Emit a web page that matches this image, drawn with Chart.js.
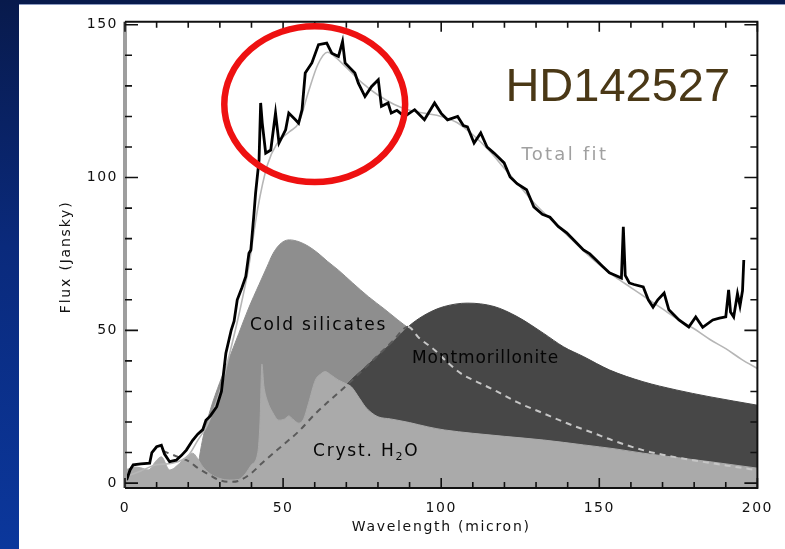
<!DOCTYPE html>
<html><head><meta charset="utf-8">
<script src="https://cdn.jsdelivr.net/npm/chart.js@4.4.1/dist/chart.umd.min.js"></script>
<style>
html,body{margin:0;padding:0;}
body{width:785px;height:549px;background:linear-gradient(180deg,#081a4c 0%,#0a2a7c 45%,#0b379c 100%);position:relative;overflow:hidden;}
#wrap{position:absolute;left:19px;top:4px;width:766px;height:544px;background:#fff;border-top:1px solid #8d9cc2;}
</style></head><body>
<div id="wrap"><canvas id="c" width="766" height="544"></canvas></div>
<script>
// ---- data (x = wavelength in micron, y = flux in Jansky)
const xTickLabels = [0, 50, 100, 150, 200];
const yTickLabels = [0, 50, 100, 150];
const xMinorTicks = [0,10,20,30,40,50,60,70,80,90,100,110,120,130,140,150,160,170,180,190,200];
const yMinorTicks = [0,10,20,30,40,50,60,70,80,90,100,110,120,130,140,150];

const observedFlux = [[0.5,1],[1.6,4.3],[2.6,6],[5,6.3],[7.8,6.5],[8.5,10],[10,11.9],[11.5,12.4],[12.5,9.5],[14.1,7],[16.2,7.5],[17.8,9],[19.4,10.8],[21.4,14],[23,16],[24.6,17.5],[25.6,20.6],[27,22],[29,25],[30.5,30],[31.9,42.5],[33.6,50.1],[34.5,53],[35.5,60],[37,64],[38.2,67.6],[39.2,75.2],[39.8,76.3],[40.8,88.3],[41.3,94.9],[42.4,105.8],[42.9,124.4],[43.4,117.9],[44.5,108],[46.1,109],[47.6,121.1],[48.7,111.3],[50.8,115.6],[51.8,121.1],[53.9,118.9],[54.9,117.8],[56,122.2],[57,134.2],[59.1,137.5],[61.2,143.5],[63.8,144],[65.4,140.7],[67.5,139.6],[68.8,144.5],[69.6,137.5],[72.7,134.2],[73.8,130.9],[75.9,126.5],[78,129.8],[80.1,132],[81.1,123.3],[83.2,124.4],[84.2,121.1],[86,122],[88.4,120],[91.6,122.2],[94.7,118.9],[97.9,124.4],[100,121],[102,118.9],[105.2,120],[107,117],[108.3,116.6],[110.4,111.3],[112.5,114.6],[114.5,110],[116.7,108],[119.9,104.8],[121.8,100.2],[124,98],[127,96],[129.3,90.4],[132,88],[134.4,87],[137,84],[139.7,81.9],[142,79.5],[145,76.3],[147,75],[149,73],[151,71],[153.2,68.8],[155,68],[157,67.1],[157.6,83.9],[158.2,68],[159.5,65.5],[161,65],[163.9,64.2],[165.5,60],[167,57.6],[168.5,60],[170.5,62.2],[172,56.7],[175.2,53.4],[178.3,51.1],[180.5,54.4],[182.7,51],[185.9,53.4],[188,54],[190,54.4],[190.9,63.2],[191.5,56],[192.5,54.4],[193.7,62],[194.5,58],[195.3,63],[195.7,73]];

const totalFit = [[0,2],[5,4],[10,6],[15,6.5],[20,9],[23,14],[26,19],[30,30],[33,42],[36,55],[39,70],[42,90],[45,104],[48,111],[52,115],[55,118],[58,128],[61,137],[64,141],[67,139],[70,136],[75,131],[80,127],[85,124],[90,122],[95,121],[100,120],[105,118],[110,114],[115,109],[120,103],[125,97],[130,91],[135,86],[140,81],[145,76],[150,71.5],[155,67.5],[160,64],[165,60.5],[170,57],[175,53.5],[180,50.5],[185,47],[190,44],[195,40.5],[200,37.5]];

const coldSilicates = [[0,0],[22.5,0],[23.2,6],[24.5,14],[27,24],[30,33],[33,41],[36,49],[39,57],[42.4,65],[45,71],[46.5,74.5],[48,77],[50,79],[52,79.6],[55,79],[58,77.5],[61,75.3],[64,72.6],[67.5,69.7],[72,65.5],[77,61],[82,57],[86.3,53.4],[90,50.5],[95,47],[100,44],[110,38],[120,33],[140,25],[160,19],[180,15],[200,12]];

const montmorillonite = [[40,0],[50,8],[60,19],[65,25.5],[70.6,32.8],[75,37],[80,41.7],[85,46.5],[90.5,52],[95.8,55.6],[101,57.8],[108.3,58.9],[116.7,57.8],[124,54.5],[132.4,49],[138.7,44.6],[145,41.4],[153.3,37],[163.8,33.2],[174.3,30.5],[184.7,28.3],[200,25.5]];

const crystH2O = [[0,4.3],[1.5,4.8],[2.6,5.3],[5,5],[7.3,4.3],[10,7.5],[11.5,8.6],[14.1,4.3],[17.3,6.5],[19.4,8.6],[21.4,9.8],[23,8],[24.5,5.5],[27,3],[30,1.5],[33,1],[36,1.2],[38,3],[40,6],[42,10],[42.7,20],[43.3,39],[43.9,32],[45,27],[46.5,23.5],[48.7,20.6],[50.5,21],[51.8,22],[53,21],[55,19.6],[56.5,21],[58,26],[60.2,33.7],[62,35.8],[63.3,36.5],[65,35.5],[67.5,33.7],[70,32.5],[71.6,31.5],[74,28],[76,25],[78,23],[80,21.7],[84,21],[90,19.8],[95.8,18.4],[101,17.4],[110,16.3],[120,15.3],[132.4,14.1],[145,12.5],[155,11.2],[163.8,9.8],[175,8.3],[185,7],[200,4.9]];

const dashedComponent = [[12,10.5],[17,8.5],[20.4,7],[22.5,5.3],[24.5,4],[27,2.5],[29.8,1],[33,0.4],[36.1,0.8],[40,3.3],[43.3,6.5],[50,12.5],[55,17],[60,22.5],[65,27.3],[68.5,30.5],[75,36.8],[80,41.8],[85,46.8],[89.5,51.2],[93,47.5],[97.9,43.6],[102,39.5],[106.2,35.9],[110,33.8],[116.7,30.5],[124,26.5],[132.4,22.8],[140,19.5],[148.1,16.4],[155,13.7],[163.8,10.8],[170,9.3],[179.5,7.5],[190,5.8],[200,4.2]];

// annotation anchors in data units
const labelTotalFit = [139.1, 107.4];
const labelColdSil = [61.2, 51.4];
const labelMontmor = [114, 40.9];
const labelH2O = [76.3, 10.2];
const labelStar = [120.3, 124.9];
const circleCenter = [60, 124];
const circleRadii = [28.6, 25.5];

const toPts = arr => arr.map(p => ({x: p[0], y: p[1]}));
const AXIS_FONT = '"DejaVu Sans", sans-serif';

function spacedCenter(ctx, text, cx, cy, spacing) {
  ctx.letterSpacing = spacing + 'px';
  const w = ctx.measureText(text).width;
  ctx.textAlign = 'left';
  ctx.fillText(text, cx - w / 2, cy);
}

const decor = {
  id: 'decor',
  beforeUpdate(chart) { chart.ctx.letterSpacing = '1.5px'; },
  beforeDraw(chart) { chart.ctx.letterSpacing = '1.5px'; },
  afterDatasetsDraw(chart) {
    const {ctx, chartArea: a, scales: {x, y}} = chart;
    ctx.save();
    // frame
    ctx.strokeStyle = '#9e9e9e'; ctx.lineWidth = 4;
    ctx.beginPath(); ctx.moveTo(a.left, a.top); ctx.lineTo(a.left, a.bottom); ctx.stroke();
    ctx.strokeStyle = '#111'; ctx.lineWidth = 2;
    ctx.beginPath(); ctx.moveTo(a.left, a.top); ctx.lineTo(a.right, a.top); ctx.lineTo(a.right, a.bottom); ctx.lineTo(a.left, a.bottom); ctx.stroke();
    // ticks (inward, all four sides)
    ctx.lineWidth = 1.6;
    ctx.beginPath();
    xMinorTicks.forEach(v => {
      const px = x.getPixelForValue(v);
      const L = xTickLabels.includes(v) ? 10 : 6;
      ctx.moveTo(px, a.bottom); ctx.lineTo(px, a.bottom - L);
      ctx.moveTo(px, a.top); ctx.lineTo(px, a.top + L);
    });
    yMinorTicks.forEach(v => {
      const py = y.getPixelForValue(v);
      const L = yTickLabels.includes(v) ? 13 : 7;
      ctx.moveTo(a.left, py); ctx.lineTo(a.left + L, py);
      ctx.moveTo(a.right, py); ctx.lineTo(a.right - L, py);
    });
    ctx.stroke();

    // in-plot labels
    ctx.textBaseline = 'middle';
    ctx.font = '18px ' + AXIS_FONT;
    ctx.fillStyle = '#a0a0a0';
    spacedCenter(ctx, 'Total fit', x.getPixelForValue(labelTotalFit[0]), y.getPixelForValue(labelTotalFit[1]), 2.3);
    ctx.fillStyle = '#050505';
    ctx.font = '17px ' + AXIS_FONT;
    spacedCenter(ctx, 'Cold silicates', x.getPixelForValue(labelColdSil[0]), y.getPixelForValue(labelColdSil[1]), 1.8);
    spacedCenter(ctx, 'Montmorillonite', x.getPixelForValue(labelMontmor[0]), y.getPixelForValue(labelMontmor[1]), 0.9);
    // Cryst. H2O with subscript
    const hx = x.getPixelForValue(labelH2O[0]), hy = y.getPixelForValue(labelH2O[1]);
    ctx.letterSpacing = '1.8px';
    ctx.font = '17px ' + AXIS_FONT;
    const p1 = 'Cryst. H', p3 = 'O';
    const w1 = ctx.measureText(p1).width, w3 = ctx.measureText(p3).width;
    ctx.font = '11px ' + AXIS_FONT;
    const w2 = ctx.measureText('2').width;
    let sx = hx - (w1 + w2 + w3) / 2;
    ctx.textAlign = 'left';
    ctx.font = '17px ' + AXIS_FONT; ctx.fillText(p1, sx, hy);
    ctx.font = '11px ' + AXIS_FONT; ctx.fillText('2', sx + w1, hy + 5);
    ctx.font = '17px ' + AXIS_FONT; ctx.fillText(p3, sx + w1 + w2, hy);
    ctx.restore();
  },
  afterDraw(chart) {
    const {ctx, chartArea: a, scales: {x, y}} = chart;
    ctx.save();
    // axis titles
    ctx.fillStyle = '#111';
    ctx.font = '14px ' + AXIS_FONT;
    ctx.textBaseline = 'middle';
    spacedCenter(ctx, 'Wavelength (micron)', (a.left + a.right) / 2, 522, 1.7);
    ctx.save();
    ctx.translate(47, (a.top + a.bottom) / 2 + 2);
    ctx.rotate(-Math.PI / 2);
    spacedCenter(ctx, 'Flux (Jansky)', 0, 0, 1.8);
    ctx.restore();

    // star name
    ctx.letterSpacing = '0px';
    ctx.font = '47px "Liberation Sans", Arial, sans-serif';
    ctx.fillStyle = '#4a3816';
    ctx.textAlign = 'left';
    ctx.textBaseline = 'alphabetic';
    ctx.fillText('HD142527', x.getPixelForValue(labelStar[0]), y.getPixelForValue(labelStar[1]));

    // red highlight ellipse
    const cx = x.getPixelForValue(circleCenter[0]), cy = y.getPixelForValue(circleCenter[1]);
    const rx = x.getPixelForValue(circleCenter[0] + circleRadii[0]) - cx;
    const ry = cy - y.getPixelForValue(circleCenter[1] + circleRadii[1]);
    ctx.strokeStyle = '#ee1111';
    ctx.lineWidth = 6.5;
    ctx.beginPath();
    ctx.ellipse(cx, cy, rx, ry, 0, 0, Math.PI * 2);
    ctx.stroke();
    ctx.restore();
  }
};

const area = (label, data, color, order) => ({
  label, data: toPts(data), borderColor: color, backgroundColor: color,
  borderWidth: 1, pointRadius: 0, fill: 'start', cubicInterpolationMode: 'monotone', order
});

new Chart(document.getElementById('c'), {
  type: 'line',
  data: {
    datasets: [
      {label: 'Observed', data: toPts(observedFlux), borderColor: '#000', borderWidth: 2.8,
       pointRadius: 0, fill: false, tension: 0, order: 0},
      {label: 'Total fit', data: toPts(totalFit), borderColor: '#b6b6b6', borderWidth: 1.6,
       pointRadius: 0, fill: false, cubicInterpolationMode: 'monotone', order: 1},
      {label: 'Component', data: toPts(dashedComponent), borderColor: '#5a5a5a', borderWidth: 2,
       borderDash: [6, 5], pointRadius: 0, fill: false, cubicInterpolationMode: 'monotone', order: 2,
       segment: {borderColor: c => c.p0.parsed.x >= 88 ? '#c6c6c6' : '#5a5a5a'}},
      area('Cryst. H2O', crystH2O, '#aaaaaa', 3),
      area('Montmorillonite', montmorillonite, '#474747', 4),
      area('Cold silicates', coldSilicates, '#8e8e8e', 5)
    ]
  },
  options: {
    responsive: false,
    animation: false,
    devicePixelRatio: 1,
    layout: {padding: {left: 0, right: 23, top: 16.7, bottom: 0}},
    plugins: {legend: {display: false}, tooltip: {enabled: false}},
    scales: {
      x: {
        type: 'linear', min: 0, max: 200,
        afterBuildTicks: s => { s.ticks = xTickLabels.map(v => ({value: v})); },
        afterFit: s => { s.height = 61; },
        grid: {display: false, drawTicks: false},
        border: {display: false},
        ticks: {color: '#111', font: {family: 'DejaVu Sans', size: 14}, padding: 12, maxRotation: 0, autoSkip: false}
      },
      y: {
        type: 'linear', min: -1.6, max: 151,
        afterBuildTicks: s => { s.ticks = yTickLabels.map(v => ({value: v})); },
        afterFit: s => { s.width = 106; },
        grid: {display: false, drawTicks: false},
        border: {display: false},
        ticks: {color: '#111', font: {family: 'DejaVu Sans', size: 14}, padding: 7, autoSkip: false}
      }
    }
  },
  plugins: [decor]
});
</script>
</body></html>
